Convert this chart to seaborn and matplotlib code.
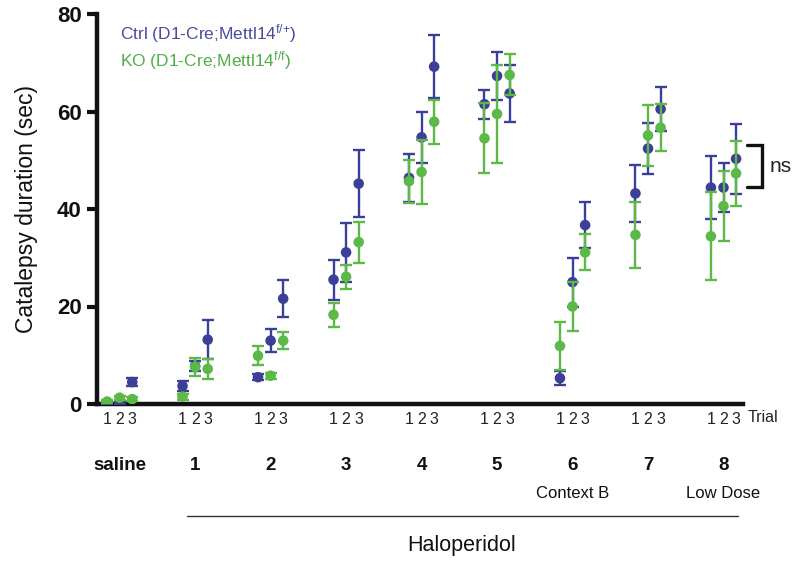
import numpy as np
import pandas as pd
import matplotlib
matplotlib.use("Agg")
import matplotlib.pyplot as plt
import seaborn as sns
from matplotlib import font_manager
from matplotlib.transforms import blended_transform_factory

# ---- data: mean catalepsy duration (sec) and SEM, per session x trial ----
sessions = ["saline", "1", "2", "3", "4", "5", "6", "7", "8"]
session_notes = ["", "", "", "", "", "", "Context B", "", "Low Dose"]
trials = ["1", "2", "3"]

ctrl_mean = [
    [0.3, 0.4, 4.5],
    [3.7, 7.8, 13.2],
    [5.5, 13.0, 21.6],
    [25.5, 31.1, 45.2],
    [46.4, 54.7, 69.2],
    [61.5, 67.3, 63.7],
    [5.3, 25.0, 36.7],
    [43.2, 52.4, 60.5],
    [44.4, 44.4, 50.3],
]
ctrl_sem = [
    [0.3, 0.3, 0.8],
    [1.0, 1.0, 4.0],
    [0.6, 2.4, 3.8],
    [4.1, 6.0, 6.9],
    [4.9, 5.2, 6.4],
    [3.0, 5.0, 5.8],
    [1.4, 5.0, 4.8],
    [5.9, 5.3, 4.6],
    [6.5, 5.0, 7.2],
]
ko_mean = [
    [0.5, 1.3, 1.0],
    [1.5, 7.6, 7.2],
    [9.9, 5.8, 13.0],
    [18.3, 26.1, 33.2],
    [45.7, 47.6, 57.9],
    [54.5, 59.5, 67.5],
    [11.9, 20.0, 31.1],
    [34.7, 55.1, 56.7],
    [34.4, 40.6, 47.3],
]
ko_sem = [
    [0.3, 0.4, 0.4],
    [0.6, 1.8, 2.0],
    [2.0, 0.6, 1.7],
    [2.5, 2.5, 4.2],
    [4.4, 6.5, 4.5],
    [7.2, 10.0, 4.2],
    [5.0, 5.0, 3.7],
    [6.8, 6.3, 4.9],
    [9.0, 7.2, 6.6],
]

yticks = [0, 20, 40, 60, 80]

BLUE = "#3b3f98"
GREEN = "#5cb947"
BLUE_TXT = "#4a4c9c"
GREEN_TXT = "#4daf4a"

# ---- long-form table ----
rows = []
for geno, means, sems in [("Ctrl", ctrl_mean, ctrl_sem), ("KO", ko_mean, ko_sem)]:
    for s, sess in enumerate(sessions):
        for t, tr in enumerate(trials):
            rows.append(dict(genotype=geno, session=sess, trial=tr,
                             pos=6 * s + t - 1, mean=means[s][t], sem=sems[s][t]))
df = pd.DataFrame(rows)

# ---- fonts ----
sns.set_theme(style="ticks")
installed = {f.name for f in font_manager.fontManager.ttflist}
REG = "Liberation Sans"
NARROW = "Liberation Sans Narrow" if "Liberation Sans Narrow" in installed else REG
plt.rcParams["font.family"] = [REG, "DejaVu Sans"]
plt.rcParams["mathtext.fontset"] = "custom"
plt.rcParams["mathtext.rm"] = NARROW
plt.rcParams["mathtext.it"] = NARROW
plt.rcParams["mathtext.bf"] = NARROW

fig = plt.figure(figsize=(7.99, 5.63), dpi=100)
ax = fig.add_axes([97 / 799, 1 - 404 / 563, (743 - 97) / 799, (404 - 14) / 563])

for geno, color, z in [("Ctrl", BLUE, 3), ("KO", GREEN, 5)]:
    sub = df[df["genotype"] == geno]
    ax.errorbar(sub["pos"], sub["mean"], yerr=sub["sem"], fmt="none",
                ecolor=color, elinewidth=1.7, capsize=4.5, capthick=1.7, zorder=z)
    sns.scatterplot(data=sub, x="pos", y="mean", color=color, s=58,
                    edgecolor="none", linewidth=0, ax=ax, zorder=z + 0.5, legend=False)

ax.set_xlim(-1.8, 49.55)
ax.set_ylim(0, 80)
ax.set_yticks(yticks)
ax.set_yticklabels([str(v) for v in yticks], fontsize=16, fontweight="bold", color="#111111")
ax.set_xticks(df.loc[df["genotype"] == "Ctrl", "pos"])
ax.set_xticklabels(list(trials) * len(sessions), fontsize=11.5, family=NARROW, color="#222222")
ax.tick_params(axis="x", length=0, pad=6)
ax.tick_params(axis="y", length=7, width=3, pad=4, color="#111111")
for side in ("top", "right"):
    ax.spines[side].set_visible(False)
for side in ("left", "bottom"):
    ax.spines[side].set_linewidth(3.2)
    ax.spines[side].set_color("#111111")
ax.set_xlabel("")
ax.set_ylabel("Catalepsy duration (sec)", fontsize=16.5, color="#111111", labelpad=10)
ax.yaxis.set_label_coords(-0.092, 0.5)

trans = blended_transform_factory(ax.transData, ax.transAxes)
axh = 390.0  # axes height in px

def ypix(py):
    return (404 - py) / axh

ax.text(49.95, ypix(418), "Trial", transform=trans, fontsize=11.5, family=NARROW,
        ha="left", va="center", color="#222222")

for s, (sess, note) in enumerate(zip(sessions, session_notes)):
    ax.text(6 * s, ypix(465), sess, transform=trans, fontsize=13.5, fontweight="bold",
            ha="center", va="center", color="#111111")
    if note:
        ax.text(6 * s, ypix(493), note, transform=trans, fontsize=12, family=NARROW,
                ha="center", va="center", color="#111111")

# bracket under the haloperidol sessions
ax.plot([5.35, 49.15], [ypix(516), ypix(516)], transform=trans, color="#333333",
        lw=1.0, clip_on=False)
ax.text(27.2, ypix(545), "Haloperidol", transform=trans, fontsize=15.5, family=NARROW,
        ha="center", va="center", color="#111111")

# legend as coloured text
ax.text(0.0, 76.0, r"Ctrl (D1-Cre;Mettl14$^{\mathrm{f/{+}}}$)", fontsize=12.5, family=NARROW,
        color=BLUE_TXT, ha="left", va="center")
ax.text(0.0, 70.5, r"KO (D1-Cre;Mettl14$^{\mathrm{f/f}}$)", fontsize=12.5, family=NARROW,
        color=GREEN_TXT, ha="left", va="center")

# significance bracket for the last session
bx0, bx1 = 49.9, 51.05
ytop, ybot = 53.1, 44.5
ax.plot([bx0, bx1, bx1, bx0], [ytop, ytop, ybot, ybot], color="#111111", lw=2.4,
        clip_on=False, solid_joinstyle="miter")
ax.text(51.7, (ytop + ybot) / 2, "ns", fontsize=15, family=NARROW, ha="left",
        va="center", color="#222222")

fig.savefig("out.png", dpi=100, facecolor="white")
